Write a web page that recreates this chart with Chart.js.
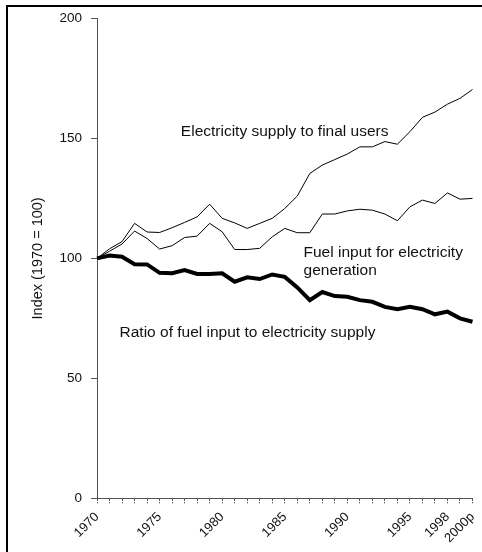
<!DOCTYPE html>
<html>
<head>
<meta charset="utf-8">
<script src="https://cdn.jsdelivr.net/npm/chart.js@4"></script>
<style>
  html, body { margin: 0; padding: 0; background: #fff; }
  #wrap { width: 482px; height: 552px; position: relative; }
</style>
</head>
<body>
<div id="wrap"><canvas id="my-chart" width="482" height="552"></canvas></div>
<script>
// years on the x axis, 2000 is provisional
const years = ['1970','1971','1972','1973','1974','1975','1976','1977','1978','1979',
               '1980','1981','1982','1983','1984','1985','1986','1987','1988','1989',
               '1990','1991','1992','1993','1994','1995','1996','1997','1998','1999','2000p'];
// only these get a label under the axis
const shownYears = ['1970','1975','1980','1985','1990','1995','1998','2000p'];

// index values, 1970 = 100
const electricitySupply = [100, 104, 107, 114.6, 111, 110.8, 112.8, 115, 117.3, 122.6,
                           116.7, 114.8, 112.5, 114.6, 116.7, 120.8, 126, 135.4, 138.9, 141.2,
                           143.5, 146.5, 146.5, 148.7, 147.6, 152.8, 158.8, 161, 164.3, 166.7, 170.4];
const fuelInput = [100, 103, 106, 111.4, 108.3, 103.9, 105.3, 108.7, 109.3, 114.6,
                   111.1, 103.7, 103.7, 104.2, 109, 112.5, 110.7, 110.7, 118.5, 118.5,
                   119.8, 120.5, 120.1, 118.5, 115.7, 121.5, 124.3, 122.9, 127.3, 124.7, 125];
const fuelRatio = [100, 101.2, 100.7, 97.6, 97.5, 94, 93.8, 95.1, 93.5, 93.5,
                   93.8, 90.3, 92.1, 91.4, 93.3, 92.3, 87.9, 82.6, 86, 84.3,
                   84, 82.6, 81.9, 79.8, 78.8, 79.8, 78.8, 76.7, 77.8, 75, 73.6];

const yMin = 0;
const yMax = 200;
const yStep = 50;

// text placed next to the lines (year index, value)
const notes = [
  { lines: ['Electricity supply to final users'], x: 6.7, y: 152.6 },
  { lines: ['Fuel input for electricity', 'generation'], x: 16.5, y: 102.3 },
  { lines: ['Ratio of fuel input to electricity supply'], x: 1.8, y: 69 }
];

const FONT = '"Liberation Sans", Arial, sans-serif';
const axisGrey = '#555';

const decor = {
  id: 'decor',
  afterDraw(chart) {
    const ctx = chart.ctx;
    const xs = chart.scales.x, ys = chart.scales.y;
    ctx.save();
    // outer frame (top and left)
    ctx.strokeStyle = '#000';
    ctx.lineWidth = 2;
    ctx.beginPath();
    ctx.moveTo(7, 560);
    ctx.lineTo(7, 6);
    ctx.lineTo(490, 6);
    ctx.stroke();
    // notes
    ctx.fillStyle = '#111';
    ctx.font = '15.5px ' + FONT;
    ctx.textBaseline = 'middle';
    ctx.textAlign = 'left';
    for (const n of notes) {
      const px = xs.getPixelForValue(n.x);
      n.lines.forEach((t, i) => {
        ctx.fillText(t, px, ys.getPixelForValue(n.y) + i * 17.5);
      });
    }
    ctx.restore();
  }
};

const data = {
  labels: years,
  datasets: [
    { label: 'Electricity supply to final users', data: electricitySupply,
      borderColor: '#000', borderWidth: 1, pointRadius: 0, tension: 0 },
    { label: 'Fuel input for electricity generation', data: fuelInput,
      borderColor: '#000', borderWidth: 1, pointRadius: 0, tension: 0 },
    { label: 'Ratio of fuel input to electricity supply', data: fuelRatio,
      borderColor: '#000', borderWidth: 4, pointRadius: 0, tension: 0,
      borderJoinStyle: 'miter' }
  ]
};

const config = {
  type: 'line',
  data: data,
  options: {
    responsive: false,
    animation: false,
    layout: { padding: { left: 0, right: 9.5, top: 18.5, bottom: 0 } },
    plugins: { legend: { display: false }, tooltip: { enabled: false } },
    scales: {
      x: {
        offset: false,
        afterFit(scale) {
          scale.height = 53.7;
          scale.paddingLeft = 0;
          scale.paddingRight = 0;
        },
        border: { display: true, color: axisGrey, dash: [3, 2], width: 1 },
        grid: { drawOnChartArea: false, drawTicks: true, tickLength: 5, color: axisGrey,
                tickBorderDash: [2, 1] },
        ticks: {
          autoSkip: false, maxRotation: 45, minRotation: 45, padding: 6,
          color: '#111', font: { family: FONT, size: 13 },
          callback(v) { const l = years[v]; return shownYears.includes(l) ? l : ''; }
        }
      },
      y: {
        min: yMin, max: yMax,
        afterFit(scale) { scale.width = 97; },
        border: { display: true, color: axisGrey, dash: [3, 2], width: 1 },
        grid: { drawOnChartArea: false, drawTicks: true, tickLength: 6, color: axisGrey },
        ticks: { stepSize: yStep, padding: 9, color: '#111', font: { family: FONT, size: 13.5 } },
        title: { display: true, text: 'Index (1970 = 100)', color: '#111',
                 font: { family: FONT, size: 14.5 }, padding: { top: 29, bottom: 0 } }
      }
    }
  },
  plugins: [decor]
};

const myChart = new Chart(document.getElementById('my-chart'), config);
</script>
</body>
</html>
